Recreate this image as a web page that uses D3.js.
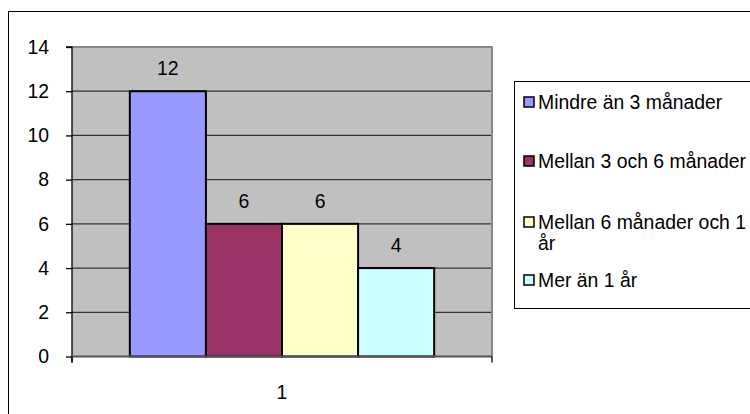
<!DOCTYPE html>
<html>
<head>
<meta charset="utf-8">
<script src="https://cdn.jsdelivr.net/npm/d3@7"></script>
<style>
  html, body { margin: 0; padding: 0; background: #fff; }
  svg { display: block; font-family: "Liberation Sans", Arial, sans-serif; }
</style>
</head>
<body>
<svg id="chart" width="750" height="414"></svg>
<script>
// Chart data
const categories = ["1"];
const seriesNames = ["Mindre än 3 månader", "Mellan 3 och 6 månader", "Mellan 6 månader och 1 år", "Mer än 1 år"];
const seriesValues = [12, 6, 6, 4];
const seriesColors = ["#9999FF", "#993366", "#FFFFCC", "#CCFFFF"];
const yTicks = [0, 2, 4, 6, 8, 10, 12, 14];

const svg = d3.select("#chart");
const fontSize = 19.4;

// Outer chart frame
svg.append("rect")
  .attr("x", 8.5).attr("y", 11.5)
  .attr("width", 800).attr("height", 500)
  .attr("fill", "#fff").attr("stroke", "#000").attr("stroke-width", 1);

const plot = { left: 72, right: 492, top: 47, bottom: 356.5 };

const y = d3.scaleLinear().domain([0, 14]).range([plot.bottom, plot.top]);
const x0 = d3.scaleBand().domain(categories).range([plot.left, plot.right])
  .paddingInner(0).paddingOuter(0.19);
const x1 = d3.scaleBand().domain(seriesNames).range([0, x0.bandwidth()]).padding(0);

// Plot area background
svg.append("rect")
  .attr("x", plot.left).attr("y", plot.top)
  .attr("width", plot.right - plot.left).attr("height", plot.bottom - plot.top)
  .attr("fill", "#C0C0C0");

// Gridlines
svg.append("g")
  .selectAll("line")
  .data(yTicks.filter(d => d > 0 && d < 14))
  .join("line")
  .attr("x1", plot.left).attr("x2", plot.right)
  .attr("y1", d => y(d)).attr("y2", d => y(d))
  .attr("stroke", "#333").attr("stroke-width", 1.3);

// Plot area border (top and right)
svg.append("path")
  .attr("d", `M${plot.left},${plot.top} H${plot.right} V${plot.bottom}`)
  .attr("fill", "none").attr("stroke", "#888").attr("stroke-width", 2);

// Bars
const bars = svg.append("g");
categories.forEach(cat => {
  bars.selectAll("rect.bar")
    .data(seriesValues.map((v, i) => ({ name: seriesNames[i], value: v, color: seriesColors[i] })))
    .join("rect")
    .attr("class", "bar")
    .attr("x", d => x0(cat) + x1(d.name))
    .attr("y", d => y(d.value))
    .attr("width", x1.bandwidth())
    .attr("height", d => y(0) - y(d.value))
    .attr("fill", d => d.color)
    .attr("stroke", "#000").attr("stroke-width", 2);

  // Value labels
  bars.selectAll("text.val")
    .data(seriesValues.map((v, i) => ({ name: seriesNames[i], value: v })))
    .join("text")
    .attr("class", "val")
    .attr("x", d => x0(cat) + x1(d.name) + x1.bandwidth() / 2)
    .attr("y", d => y(d.value) - 16)
    .attr("text-anchor", "middle")
    .attr("font-size", fontSize)
    .attr("fill", "#000")
    .text(d => d.value);
});

// Y axis
const yAxis = d3.axisLeft(y).tickValues(yTicks).tickSize(6).tickPadding(17).tickFormat(d3.format("d"));
const yg = svg.append("g").attr("transform", `translate(${plot.left},0)`).call(yAxis);
yg.select(".domain").attr("stroke", "#000").attr("stroke-width", 1.3)
  .attr("d", `M-6,${plot.top}H0V${plot.bottom + 6}`);
yg.selectAll(".tick line").attr("stroke", "#000").attr("stroke-width", 1.3);
yg.selectAll(".tick text").attr("font-size", fontSize).attr("fill", "#000")
  .attr("font-family", "Liberation Sans, Arial, sans-serif");

// X axis
const xOuter = d3.scaleBand().domain(categories).range([plot.left, plot.right]);
const xAxis = d3.axisBottom(xOuter).tickSize(0).tickPadding(29);
const xg = svg.append("g").attr("transform", `translate(0,${plot.bottom})`).call(xAxis);
xg.select(".domain").attr("stroke", "#555").attr("stroke-width", 2)
  .attr("d", `M${plot.left},0H${plot.right}`);
xg.selectAll(".tick text").attr("font-size", fontSize).attr("fill", "#000")
  .attr("font-family", "Liberation Sans, Arial, sans-serif");
// Boundary ticks at both ends of the category axis
xg.selectAll("line.edge")
  .data([plot.left, plot.right])
  .join("line")
  .attr("class", "edge")
  .attr("x1", d => d).attr("x2", d => d)
  .attr("y1", 0).attr("y2", 6)
  .attr("stroke", "#000").attr("stroke-width", 1.3);

// Legend
const legend = svg.append("g");
legend.append("rect")
  .attr("x", 514.5).attr("y", 81.5)
  .attr("width", 300).attr("height", 227)
  .attr("fill", "#fff").attr("stroke", "#000").attr("stroke-width", 1);

const legendRows = [
  { lines: ["Mindre än 3 månader"], cy: 102 },
  { lines: ["Mellan 3 och 6 månader"], cy: 161 },
  { lines: ["Mellan 6 månader och 1", "år"], cy: 222 },
  { lines: ["Mer än 1 år"], cy: 280 }
];
legendRows.forEach((row, i) => {
  const g = legend.append("g");
  g.append("rect")
    .attr("x", 524).attr("y", row.cy - 5)
    .attr("width", 10).attr("height", 10)
    .attr("fill", seriesColors[i]).attr("stroke", "#000").attr("stroke-width", 1.5);
  const t = g.append("text")
    .attr("x", 538).attr("y", row.cy + 7)
    .attr("font-size", fontSize).attr("fill", "#000");
  row.lines.forEach((ln, j) => {
    t.append("tspan").attr("x", 538).attr("dy", j === 0 ? 0 : 21).text(ln);
  });
});
</script>
</body>
</html>
